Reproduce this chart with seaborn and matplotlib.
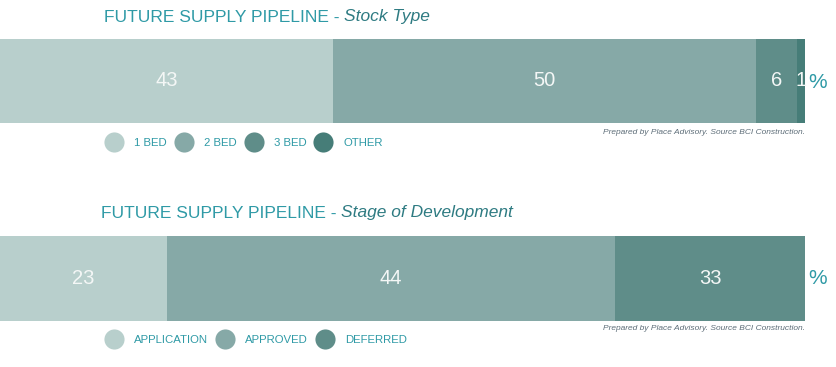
import matplotlib
matplotlib.use("Agg")
import matplotlib.pyplot as plt
from matplotlib.lines import Line2D
import numpy as np
import pandas as pd
import seaborn as sns

# %%
# Data
stock_labels = ["1 BED", "2 BED", "3 BED", "OTHER"]
stock_values = [43, 50, 6, 1]              # printed values (%)
stock_widths = [41.4, 52.5, 5.1, 1.0]      # segment lengths as drawn

stage_labels = ["APPLICATION", "APPROVED", "DEFERRED"]
stage_values = [23, 44, 33]
stage_widths = [20.7, 55.7, 23.6]

palette = ["#b8cfcc", "#86a9a7", "#5f8d89", "#467d78"]
TEAL = "#2f9aa6"
TEAL_DARK = "#2e7b82"
NOTE = "Prepared by Place Advisory. Source BCI Construction."

W, H = 836, 367
sns.set_theme(style="white")
plt.rcParams["font.family"] = ["Liberation Sans", "DejaVu Sans"]


def px(x, y):
    return x / W, 1 - y / H


def stacked_bar(fig, top, bottom, labels, values, widths):
    ax = fig.add_axes([0, 1 - bottom / H, 805 / W, (bottom - top) / H])
    df = pd.DataFrame({"cat": labels, "end": np.cumsum(widths), "row": "all"})
    # draw cumulative ends from the longest down so each segment shows through
    for i in range(len(labels) - 1, -1, -1):
        sns.barplot(data=df.iloc[[i]], x="end", y="row", color=palette[i],
                    width=1, saturation=1, orient="h", linewidth=0, ax=ax)
    starts = np.cumsum([0] + widths[:-1])
    for s, w, v in zip(starts, widths, values):
        ax.text(s + w / 2, 0, str(v), ha="center", va="center",
                fontsize=14.5, color="#f4f7f6")
    ax.set_xlim(0, 100)
    ax.set_ylim(0.5, -0.5)
    ax.axis("off")
    return ax


def title(fig, x, y, sub):
    r = fig.canvas.get_renderer()
    t = fig.text(*px(x, y), "FUTURE SUPPLY PIPELINE - ", fontsize=12.5,
                 color=TEAL, va="center", ha="left")
    bb = t.get_window_extent(renderer=r)
    fig.text(bb.x1 / W, 1 - y / H, sub, fontsize=12.5, style="italic",
             color=TEAL_DARK, va="center", ha="left")


def legend(fig, x, y, labels):
    handles = [Line2D([], [], marker="o", linestyle="", markersize=14.5,
                      markerfacecolor=palette[i], markeredgecolor="none")
               for i in range(len(labels))]
    fig.legend(handles, labels, loc="center left", bbox_to_anchor=px(x, y),
               ncol=len(labels), frameon=False, fontsize=8.2, labelcolor=TEAL,
               handlelength=1.3, handletextpad=1.1, columnspacing=0.85,
               borderaxespad=0, borderpad=0)


fig = plt.figure(figsize=(W / 100, H / 100), dpi=100)

title(fig, 104, 17, "Stock Type")
stacked_bar(fig, 39, 123, stock_labels, stock_values, stock_widths)
fig.text(*px(818, 82), "%", fontsize=15, color=TEAL, ha="center", va="center")
fig.text(*px(805, 132), NOTE, fontsize=6, style="italic", color="#5d6d78",
         ha="right", va="center")
legend(fig, 107, 143, stock_labels)

title(fig, 101, 213, "Stage of Development")
stacked_bar(fig, 236, 321, stage_labels, stage_values, stage_widths)
fig.text(*px(818, 278), "%", fontsize=15, color=TEAL, ha="center", va="center")
fig.text(*px(805, 329), NOTE, fontsize=6, style="italic", color="#5d6d78",
         ha="right", va="center")
legend(fig, 107, 340, stage_labels)

fig.savefig("out.png", dpi=100)
